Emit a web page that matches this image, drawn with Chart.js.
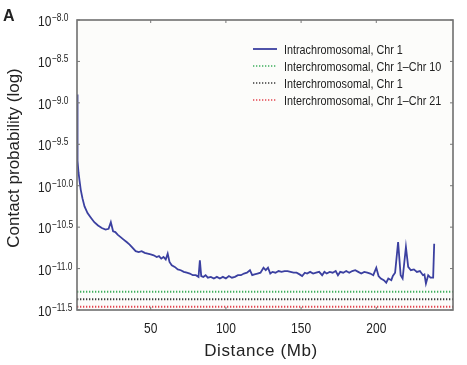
<!DOCTYPE html>
<html>
<head>
<meta charset="utf-8">
<script src="https://cdn.jsdelivr.net/npm/chart.js@4.4.1/dist/chart.umd.min.js"></script>
<style>
  body { margin: 0; background: #fff; }
  #wrap { width: 467px; height: 365px; position: relative; }
</style>
</head>
<body>
<div id="wrap"><canvas id="c"></canvas></div>
<script>
// distance along chromosome (Mb) and log10 contact probability
const distMb = [1.0, 1.2, 1.5, 2.0, 2.7, 3.5, 4.6, 6, 8, 10, 12.5, 15, 17.5, 20, 22, 23.5, 25, 26.5, 28, 30,
  32, 34, 36, 38, 40, 42, 44, 46, 48, 50, 52, 54, 55.5, 57, 58.5, 60, 61.3, 62.5, 64, 66,
  68, 70, 72, 74, 76, 78, 80, 81.8, 82.7, 83.6, 85, 86.5, 88, 90, 92, 94, 96, 98, 100, 102,
  104, 106, 108, 110, 112, 114, 116, 117.5, 119, 121, 123, 125, 126.5, 128, 129.5, 131, 133, 135, 137, 139,
  141, 143, 145, 147, 149, 150.7, 152.5, 154, 156, 158, 160, 162, 164, 165.5, 167, 169, 171, 173, 174.5, 176,
  178, 180, 182, 184, 186, 188, 190, 192, 194, 196, 198, 200, 201.5, 203, 205, 206.6, 208, 210, 211, 212.5,
  214.5, 216.2, 217.5, 219.7, 221.2, 223, 225, 227, 229, 231, 232, 233, 234.5, 236, 237.8, 238.5];
const intraLog = [-8.90, -9.45, -9.70, -9.84, -9.94, -10.05, -10.15, -10.25, -10.33, -10.38, -10.44, -10.48, -10.51, -10.53, -10.52, -10.44, -10.55, -10.56, -10.59, -10.62,
  -10.65, -10.68, -10.71, -10.75, -10.79, -10.80, -10.79, -10.81, -10.82, -10.83, -10.84, -10.86, -10.85, -10.88, -10.86, -10.89, -10.82, -10.92, -10.96, -10.98,
  -11.01, -11.02, -11.04, -11.05, -11.06, -11.08, -11.08, -11.10, -10.90, -11.09, -11.10, -11.08, -11.11, -11.10, -11.12, -11.10, -11.12, -11.10, -11.12, -11.09,
  -11.11, -11.10, -11.08, -11.08, -11.06, -11.05, -11.02, -11.08, -11.07, -11.06, -11.05, -10.99, -11.02, -10.99, -11.06, -11.04, -11.05, -11.03, -11.04, -11.03,
  -11.03, -11.04, -11.05, -11.05, -11.07, -11.09, -11.05, -11.06, -11.04, -11.06, -11.05, -11.04, -11.08, -11.04, -11.06, -11.04, -11.05, -11.03, -11.08, -11.04,
  -11.05, -11.03, -11.05, -11.03, -11.02, -11.04, -11.06, -11.04, -11.05, -11.06, -11.08, -10.99, -11.09, -11.12, -11.14, -11.17, -11.12, -11.14, -11.09, -11.05,
  -10.68, -11.08, -11.12, -10.74, -10.98, -11.02, -11.01, -11.04, -11.03, -11.08, -11.07, -11.18, -11.08, -11.11, -11.11, -10.70];

const interLabels = ['Interchromosomal, Chr 1\u2013Chr 10', 'Interchromosomal, Chr 1', 'Interchromosomal, Chr 1\u2013Chr 21'];
const interLog = [-11.28, -11.37, -11.46];
const interColors = ['#3dae5c', '#3a3a3a', '#e4434e'];

const xTicks = [50, 100, 150, 200];
const yTicks = [-8.0, -8.5, -9.0, -9.5, -10.0, -10.5, -11.0, -11.5];
const X_MIN = 1, X_MAX = 251, Y_MIN = -11.5, Y_MAX = -8;

const SANS = '"Liberation Sans", Arial, sans-serif';

const datasets = [{
  label: 'Intrachromosomal, Chr 1',
  data: distMb.map((d, i) => ({ x: d, y: intraLog[i] })),
  borderColor: '#3b40a0',
  borderWidth: 1.8,
  pointRadius: 0,
  tension: 0,
  order: 0
}];
interLog.forEach((v, i) => {
  datasets.push({
    label: interLabels[i],
    data: [{ x: X_MIN, y: v }, { x: X_MAX, y: v }],
    borderColor: interColors[i],
    borderWidth: 2,
    borderDash: [1.3, 1.7],
    pointRadius: 0,
    order: 1
  });
});

// condensed text: sans font squeezed horizontally
function narrowText(ctx, text, x, y, size, align) {
  const k = 0.8;
  ctx.save();
  ctx.font = size + 'px ' + SANS;
  const w = ctx.measureText(text).width * k;
  let x0 = x;
  if (align === 'center') x0 = x - w / 2;
  else if (align === 'right') x0 = x - w;
  ctx.translate(x0, y);
  ctx.scale(k, 1);
  ctx.textAlign = 'left';
  ctx.fillText(text, 0, 0);
  ctx.restore();
  return w;
}

const decor = {
  id: 'decor',
  beforeDatasetsDraw(chart) {
    const { ctx, chartArea: a } = chart;
    ctx.save();
    ctx.fillStyle = '#fcfcfa';
    ctx.fillRect(a.left, a.top, a.right - a.left, a.bottom - a.top);
    ctx.restore();
  },
  afterDraw(chart) {
    const { ctx, chartArea: a, scales } = chart;
    const xs = scales.x, ys = scales.y;
    ctx.save();
    // frame
    ctx.strokeStyle = '#707070';
    ctx.lineWidth = 1.6;
    ctx.strokeRect(a.left, a.top, a.right - a.left, a.bottom - a.top);
    // inward ticks
    ctx.lineWidth = 1;
    ctx.strokeStyle = '#777';
    ctx.beginPath();
    yTicks.forEach(t => {
      const y = ys.getPixelForValue(t);
      ctx.moveTo(a.left, y); ctx.lineTo(a.left + 3, y);
      ctx.moveTo(a.right, y); ctx.lineTo(a.right - 3, y);
    });
    xTicks.forEach(t => {
      const x = xs.getPixelForValue(t);
      ctx.moveTo(x, a.top); ctx.lineTo(x, a.top + 3);
      ctx.moveTo(x, a.bottom); ctx.lineTo(x, a.bottom - 3);
    });
    ctx.stroke();

    ctx.fillStyle = '#222';
    ctx.textBaseline = 'alphabetic';
    // y tick labels: 10 with superscript exponent
    yTicks.forEach(t => {
      const y = ys.getPixelForValue(t);
      const w = narrowText(ctx, '10', 38, y + 6, 15, 'left');
      narrowText(ctx, '\u2212' + t.toFixed(1).replace('-', ''), 38 + w + 0.5, y + 1, 10.5, 'left');
    });
    // x tick labels
    xTicks.forEach(t => {
      narrowText(ctx, String(t), xs.getPixelForValue(t), 333, 15, 'center');
    });
    // axis titles
    ctx.font = '17px ' + SANS;
    ctx.textAlign = 'center';
    ctx.letterSpacing = '0.6px';
    ctx.fillText('Distance (Mb)', 261, 356);
    ctx.letterSpacing = '0px';
    ctx.save();
    ctx.translate(19, 158);
    ctx.rotate(-Math.PI / 2);
    ctx.fillText('Contact probability (log)', 0, 0);
    ctx.restore();
    // panel letter
    ctx.font = 'bold 16px ' + SANS;
    ctx.textAlign = 'left';
    ctx.fillText('A', 3, 21);

    // legend
    const rows = [49, 66, 83, 100];
    chart.data.datasets.forEach((ds, i) => {
      const y = rows[i];
      ctx.strokeStyle = ds.borderColor;
      ctx.lineWidth = i === 0 ? 1.8 : 1.5;
      ctx.setLineDash(ds.borderDash || []);
      ctx.beginPath();
      ctx.moveTo(253, y); ctx.lineTo(277, y);
      ctx.stroke();
      ctx.setLineDash([]);
      ctx.fillStyle = '#222';
      narrowText(ctx, ds.label, 284, y + 5, 13.5, 'left');
    });
    ctx.restore();
  }
};

new Chart(document.getElementById('c'), {
  type: 'line',
  data: { datasets },
  options: {
    responsive: true,
    maintainAspectRatio: false,
    animation: false,
    layout: { padding: { top: 20, right: 14, left: 0, bottom: 0 } },
    plugins: { legend: { display: false }, tooltip: { enabled: false } },
    scales: {
      x: {
        type: 'linear', min: X_MIN, max: X_MAX,
        ticks: { display: false }, grid: { display: false }, border: { display: false },
        afterFit: s => { s.height = 55; }
      },
      y: {
        type: 'linear', min: Y_MIN, max: Y_MAX,
        ticks: { display: false }, grid: { display: false }, border: { display: false },
        afterFit: s => { s.width = 77; }
      }
    }
  },
  plugins: [decor]
});
</script>
</body>
</html>
